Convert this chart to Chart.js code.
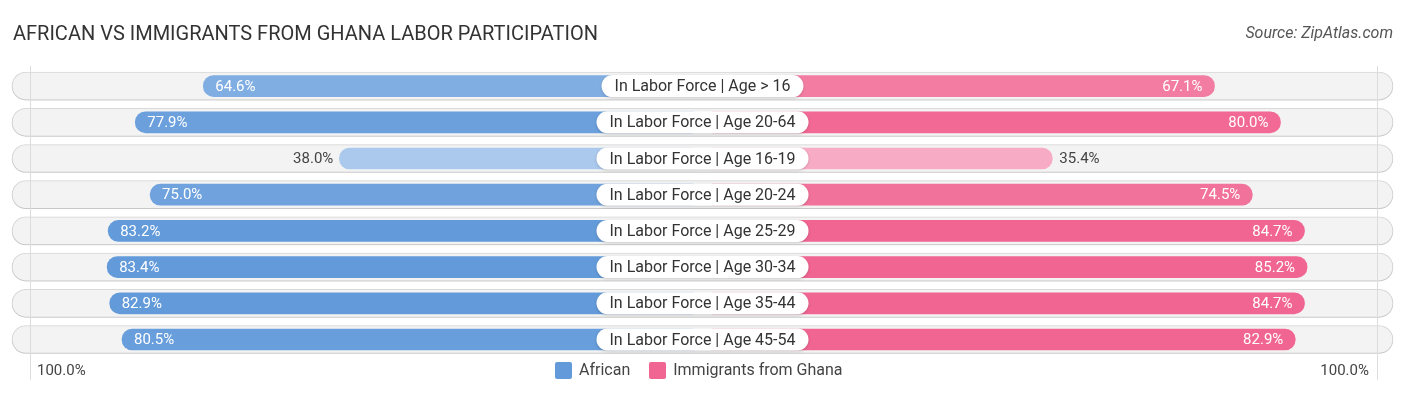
<!DOCTYPE html>
<html lang="en">
<head>
    <meta charset="UTF-8">
    <title>African vs Immigrants from Ghana Labor Participation</title>
    <script src="https://cdn.jsdelivr.net/npm/chart.js"></script>
    <style>
        body {
            margin: 0;
            background: #ffffff;
            font-family: Roboto, Arial, sans-serif;
        }
        .wrap {
            position: relative;
            width: 1406px;
            height: 395px;
        }
        #chart {
            position: absolute;
            left: 0;
            top: 0;
        }
        .title {
            position: absolute;
            left: 13px;
            top: 22px;
            font-size: 20px;
            line-height: 22px;
            color: #333;
        }
        .source {
            position: absolute;
            right: 13px;
            top: 23px;
            font-size: 16px;
            line-height: 20px;
            font-style: italic;
            color: #555;
        }
        .axis-label {
            position: absolute;
            top: 360px;
            font-size: 15px;
            line-height: 20px;
            color: #444;
        }
        .legend {
            position: absolute;
            left: 555px;
            top: 360px;
            display: flex;
            align-items: center;
            font-size: 16px;
            line-height: 20px;
            color: #444;
        }
        .legend .box {
            width: 17px;
            height: 17px;
            border-radius: 2px;
            margin-right: 7px;
        }
        .legend .item {
            display: flex;
            align-items: center;
            margin-right: 19px;
        }
    </style>
</head>
<body>
    <div class="wrap">
        <canvas id="chart" width="1406" height="395"></canvas>
        <div class="title">AFRICAN VS IMMIGRANTS FROM GHANA LABOR PARTICIPATION</div>
        <div class="source">Source: ZipAtlas.com</div>
        <div class="axis-label" style="left:37px">100.0%</div>
        <div class="axis-label" style="right:37px">100.0%</div>
        <div class="legend">
            <div class="item"><div class="box" style="background:#639bda"></div>African</div>
            <div class="item"><div class="box" style="background:#f06591"></div>Immigrants from Ghana</div>
        </div>
    </div>

    <script>
        const categories = [
            "In Labor Force | Age > 16",
            "In Labor Force | Age 20-64",
            "In Labor Force | Age 16-19",
            "In Labor Force | Age 20-24",
            "In Labor Force | Age 25-29",
            "In Labor Force | Age 30-34",
            "In Labor Force | Age 35-44",
            "In Labor Force | Age 45-54"
        ];
        const african = [64.6, 77.9, 38.0, 75.0, 83.2, 83.4, 82.9, 80.5];
        const ghana = [67.1, 80.0, 35.4, 74.5, 84.7, 85.2, 84.7, 82.9];

        const OFFSET = 33;   // gap left for the centre label, in % units
        const SPAN = 135;    // half width of the row background

        // lighter shade for smaller values
        function shade(v, light, full) {
            let t = Math.min(1, Math.max(0, (v - 35) / 48));
            const c = light.map((l, k) => Math.round(l + (full[k] - l) * t));
            return "rgb(" + c.join(",") + ")";
        }
        const blueLight = [176, 204, 238], blueFull = [99, 155, 218];
        const pinkLight = [248, 172, 197], pinkFull = [240, 101, 145];

        function roundRect(ctx, x, y, w, h, r) {
            ctx.beginPath();
            ctx.moveTo(x + r, y);
            ctx.lineTo(x + w - r, y);
            ctx.arc(x + w - r, y + r, r, -Math.PI / 2, Math.PI / 2);
            ctx.lineTo(x + r, y + h);
            ctx.arc(x + r, y + r, r, Math.PI / 2, Math.PI * 1.5);
            ctx.closePath();
        }

        const shadowPlugin = {
            id: "rowShadow",
            beforeDatasetDraw(chart, args) {
                if (args.index !== 2) return;
                const ctx = chart.ctx;
                ctx.save();
                ctx.shadowColor = "rgba(0,0,0,0.16)";
                ctx.shadowBlur = 3;
                ctx.shadowOffsetY = 1;
            },
            afterDatasetDraw(chart, args) {
                if (args.index === 2) chart.ctx.restore();
            }
        };

        const labelPlugin = {
            id: "rowLabels",
            afterDatasetsDraw(chart) {
                const ctx = chart.ctx;
                const xs = chart.scales.x, ys = chart.scales.y;
                const area = chart.chartArea;

                // faint guide lines near the row ends
                ctx.save();
                ctx.strokeStyle = "#dcdcdc";
                ctx.lineWidth = 1;
                [area.left + 18.5, area.right - 15.5].forEach(gx => {
                    ctx.beginPath();
                    ctx.moveTo(gx, area.top - 2);
                    ctx.lineTo(gx, 380);
                    ctx.stroke();
                });
                ctx.restore();

                ctx.textBaseline = "middle";
                categories.forEach((c, i) => {
                    const y = ys.getPixelForValue(i);
                    const cx = xs.getPixelForValue(0);

                    ctx.font = "16px Roboto";
                    const w = ctx.measureText(c).width + 26;
                    ctx.save();
                    ctx.shadowColor = "rgba(0,0,0,0.18)";
                    ctx.shadowBlur = 3;
                    ctx.shadowOffsetY = 1;
                    ctx.fillStyle = "#ffffff";
                    roundRect(ctx, cx - w / 2, y - 11, w, 22, 11);
                    ctx.fill();
                    ctx.restore();
                    ctx.fillStyle = "#333";
                    ctx.textAlign = "center";
                    ctx.fillText(c, cx, y + 1);

                    ctx.font = "15px Roboto";
                    const ax = xs.getPixelForValue(-(OFFSET + african[i]));
                    const at = african[i].toFixed(1) + "%";
                    if (african[i] >= 50) {
                        ctx.fillStyle = "#ffffff";
                        ctx.textAlign = "left";
                        ctx.fillText(at, ax + 12, y + 1);
                    } else {
                        ctx.fillStyle = "#444";
                        ctx.textAlign = "right";
                        ctx.fillText(at, ax - 6, y + 1);
                    }

                    const gx = xs.getPixelForValue(OFFSET + ghana[i]);
                    const gt = ghana[i].toFixed(1) + "%";
                    if (ghana[i] >= 50) {
                        ctx.fillStyle = "#ffffff";
                        ctx.textAlign = "right";
                        ctx.fillText(gt, gx - 12, y + 1);
                    } else {
                        ctx.fillStyle = "#444";
                        ctx.textAlign = "left";
                        ctx.fillText(gt, gx + 7, y + 1);
                    }
                });
            }
        };

        new Chart(document.getElementById("chart"), {
            type: "bar",
            data: {
                labels: categories,
                datasets: [
                    {
                        label: "African",
                        data: african.map(v => [-(OFFSET + v), 0]),
                        backgroundColor: african.map(v => shade(v, blueLight, blueFull)),
                        borderRadius: 11,
                        borderSkipped: false,
                        barThickness: 21,
                        grouped: false,
                        order: 1
                    },
                    {
                        label: "Immigrants from Ghana",
                        data: ghana.map(v => [0, OFFSET + v]),
                        backgroundColor: ghana.map(v => shade(v, pinkLight, pinkFull)),
                        borderRadius: 11,
                        borderSkipped: false,
                        barThickness: 21,
                        grouped: false,
                        order: 1
                    },
                    {
                        label: "row",
                        data: categories.map(() => [-SPAN, SPAN]),
                        backgroundColor: "#f3f3f3",
                        borderColor: "#dedede",
                        borderWidth: 1,
                        borderRadius: 14,
                        borderSkipped: false,
                        barThickness: 28,
                        grouped: false,
                        clip: false,
                        order: 2
                    }
                ]
            },
            options: {
                responsive: false,
                animation: false,
                indexAxis: "y",
                layout: {
                    padding: { left: 12, right: 13, top: 68, bottom: 37.4 }
                },
                scales: {
                    x: { display: false, min: -SPAN, max: SPAN },
                    y: { display: false }
                },
                plugins: {
                    legend: { display: false },
                    tooltip: { enabled: false }
                }
            },
            plugins: [shadowPlugin, labelPlugin]
        });
    </script>
</body>
</html>
